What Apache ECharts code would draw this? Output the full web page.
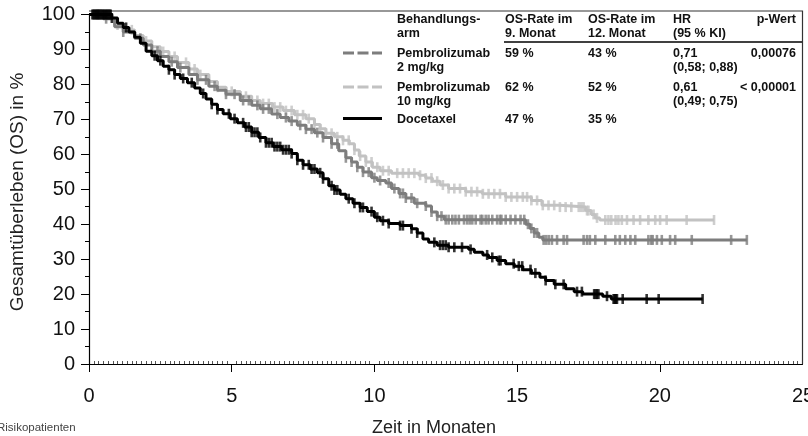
<!DOCTYPE html>
<html><head><meta charset="utf-8">
<script src="https://cdn.jsdelivr.net/npm/echarts@6/dist/echarts.min.js"></script>
<style>html,body{margin:0;padding:0;background:#fff}#c{width:808px;height:436px}</style>
</head><body><div id="c"></div>
<script>
// ---- data ----
const armNames = ['Pembrolizumab 10 mg/kg', 'Pembrolizumab 2 mg/kg', 'Docetaxel'];
const xTickValues = [0, 5, 10, 15, 20, 25];
const yTickValues = [0, 10, 20, 30, 40, 50, 60, 70, 80, 90, 100];

const docetaxelSteps = [[0,100],[0.8,99],[1.0,97.5],[1.2,96.3],[1.4,95],[1.6,93.5],[1.8,91.8],[2.0,89.5],[2.2,88.2],[2.4,86.8],[2.6,85.2],[2.8,84.2],[3.0,82.8],[3.2,81.7],[3.45,80.5],[3.7,79],[3.9,77.4],[4.1,75.8],[4.3,74.3],[4.5,72.8],[4.7,71.6],[4.95,70.2],[5.2,69],[5.45,67.8],[5.7,66.3],[5.95,64.8],[6.2,63.3],[6.45,62.2],[6.75,61.3],[7.1,60.2],[7.3,58.3],[7.5,57],[7.75,55.8],[8.0,54.7],[8.2,53],[8.4,51],[8.6,49.8],[8.8,48.6],[9.0,47.3],[9.25,46],[9.5,44.8],[9.75,43.6],[10.0,42],[10.2,41],[10.5,40.2],[10.9,39.6],[11.3,38.7],[11.5,37.5],[11.7,35.8],[11.9,34.8],[12.2,34],[12.6,33.4],[13.3,32.8],[13.5,32],[13.8,31.2],[14.0,30.5],[14.3,29.6],[14.6,28.7],[14.9,28],[15.2,27],[15.5,26],[15.8,24.8],[16.0,23.9],[16.3,22.8],[16.7,21.5],[17.0,20.7],[17.3,20],[18.0,19.4],[18.3,18.6],[21.5,18.6]];
const pembro2Steps = [[0,100],[0.5,98.8],[0.9,96.5],[1.2,95],[1.6,93.2],[1.9,91.3],[2.2,89.5],[2.5,88],[2.8,86.5],[3.1,84.8],[3.5,82.8],[3.8,81.3],[4.2,79.5],[4.5,78.3],[4.8,77.2],[5.3,75.4],[5.7,74],[6.0,73],[6.4,71.5],[6.7,70.5],[7.0,69.5],[7.3,68.3],[7.6,67.2],[7.9,66.2],[8.2,64.8],[8.5,63],[8.75,61],[9.0,59],[9.2,57.8],[9.4,56.3],[9.6,54.9],[9.9,53.3],[10.1,52.5],[10.4,51.8],[10.6,50.2],[10.86,48.8],[11.1,47.5],[11.4,46],[11.8,45.2],[12.0,43.5],[12.2,42.3],[12.45,41.3],[15.1,41.3],[15.3,40],[15.45,38.8],[15.6,37.5],[15.76,36.3],[15.9,35.5],[23.05,35.5]];
const pembro10Steps = [[0,100],[0.5,99],[0.9,97],[1.2,95.6],[1.6,94],[1.9,92.4],[2.2,90.8],[2.5,89.4],[2.8,88],[3.1,86.3],[3.5,84.4],[3.8,82.8],[4.2,80.8],[4.5,79.2],[4.8,78],[5.3,76.6],[5.7,75.4],[6.0,74.5],[6.43,73.5],[6.8,72.5],[7.2,71.3],[7.6,70.2],[7.9,68.5],[8.1,67.3],[8.3,66],[8.6,65],[8.9,64],[9.12,63],[9.3,61.2],[9.47,59.5],[9.7,57.8],[9.93,56.3],[10.2,55.3],[10.6,54.6],[11.56,54],[11.8,53.2],[12.03,52.3],[12.3,51.2],[12.6,50.2],[13.2,49.3],[13.78,48.7],[14.6,47.8],[15.5,46.8],[15.87,45.4],[16.5,44.9],[17.4,43.9],[17.6,42.8],[17.74,41.8],[17.9,41.2],[21.9,41.2]];

const docetaxelCensor = [0.12,0.16,0.2,0.24,0.28,0.32,0.36,0.4,0.44,0.48,0.52,0.56,0.6,0.64,0.68,0.72,0.76,0.8,1.3,2.3,2.5,2.8,3.0,3.3,3.6,4.0,4.3,4.5,4.9,5.1,5.4,5.5,5.6,5.7,5.8,5.9,6.0,6.2,6.3,6.4,6.5,6.6,6.7,6.8,6.9,7.0,7.1,7.3,7.5,7.7,7.8,7.9,8.1,8.2,8.5,8.6,8.7,9.1,9.3,9.5,9.6,9.9,10.1,10.3,10.5,10.9,11.0,11.3,11.5,12.1,12.3,12.4,12.5,12.6,12.8,13.07,13.37,13.95,14.13,14.36,14.42,14.88,15.06,15.18,15.47,15.64,16.0,16.34,16.63,17.1,17.27,17.7,17.75,17.8,17.85,18.15,18.38,18.42,18.46,18.5,18.7,19.54,19.96,21.5];
const pembro2Censor = [0.3,0.6,1.2,1.8,2.4,2.9,3.2,3.8,4.1,4.4,4.8,5.1,5.4,5.6,5.9,6.1,6.3,6.6,6.9,7.1,7.4,7.6,7.8,8.0,8.2,8.5,8.7,9.0,9.2,9.4,9.6,9.8,10.0,10.2,10.5,10.7,10.9,11.0,11.1,11.3,11.5,11.8,12.0,12.2,12.35,12.5,12.6,12.73,12.84,12.96,13.14,13.25,13.34,13.43,13.55,13.72,13.78,13.9,14.0,14.13,14.3,14.4,14.45,14.6,14.77,14.94,15.12,15.25,15.38,15.5,15.6,15.7,15.93,16.02,16.11,16.22,16.4,16.63,16.75,17.33,17.45,17.55,17.74,18.09,18.44,18.6,18.79,18.97,19.14,19.6,19.7,19.75,19.9,20.07,20.36,20.54,21.12,22.5,23.05];
const pembro10Censor = [0.4,1.0,1.5,2.0,2.6,3.0,3.4,3.7,3.9,4.2,4.5,4.8,5.0,5.3,5.5,5.7,5.9,6.1,6.3,6.5,6.7,6.9,7.1,7.3,7.5,7.7,7.9,8.1,8.3,8.5,8.7,8.9,9.1,9.3,9.5,9.7,9.9,10.1,10.3,10.5,10.8,11.0,11.2,11.4,11.6,11.8,12.0,12.2,12.4,12.6,12.8,13.0,13.2,13.4,13.6,13.8,14.0,14.2,14.4,14.6,14.8,15.0,15.2,15.35,15.5,15.7,15.9,16.1,16.3,16.5,16.7,16.9,17.16,17.25,17.33,17.45,17.5,17.68,17.8,18.09,18.2,18.3,18.45,18.55,18.67,18.85,19.08,19.31,19.6,19.84,20.01,20.24,20.94,21.9];

const tableHeader = [['Behandlungs-','arm'],['OS-Rate im','9. Monat'],['OS-Rate im','12. Monat'],['HR','(95 % KI)'],['p-Wert','']];
const tableRows = [
  [['Pembrolizumab','2 mg/kg'],['59 %'],['43 %'],['0,71','(0,58; 0,88)'],['0,00076']],
  [['Pembrolizumab','10 mg/kg'],['62 %'],['52 %'],['0,61','(0,49; 0,75)'],['< 0,00001']],
  [['Docetaxel'],['47 %'],['35 %'],[],[]]
];

// ---- helpers ----
function survAt(steps, t) {
  let s = steps[0][1];
  for (const p of steps) { if (p[0] <= t) s = p[1]; else break; }
  return s;
}
const colDark = '#7d7d7d', colLight = '#c2c2c2', colBlack = '#000000';
const FONT = '"Liberation Sans", Arial, sans-serif';

function lineSeries(steps, color, z) {
  return { type: 'line', step: 'end', data: steps, showSymbol: false, symbol: 'none',
    lineStyle: { color: color, width: 3 }, itemStyle: { color: color }, z: z, animation: false };
}
function censorSeries(steps, times, color, z) {
  return { type: 'scatter', data: times.map(t => [t, survAt(steps, t)]), symbol: 'rect',
    symbolSize: [2.6, 10], itemStyle: { color: color }, z: z, animation: false, silent: true };
}

// ---- table graphics ----
const graphics = [];
const colX = [397, 505, 588, 673, 796];
const colAlign = ['left','left','left','left','right'];
function txt(s, x, y, align) {
  graphics.push({ type: 'text', x: x, y: y, silent: true, z: 100,
    style: { text: s, fill: '#111', font: 'bold 12.5px ' + FONT, align: align || 'left', verticalAlign: 'middle' } });
}
tableHeader.forEach((h, i) => { txt(h[0], colX[i], 20, colAlign[i]); if (h[1]) txt(h[1], colX[i], 34, colAlign[i]); });
const rowY = [54, 88, 120];
tableRows.forEach((r, ri) => {
  r.forEach((c, ci) => {
    if (c[0]) txt(c[0], colX[ci], rowY[ri], colAlign[ci]);
    if (c[1]) txt(c[1], colX[ci], rowY[ri] + 14, colAlign[ci]);
  });
});
graphics.push({ type: 'line', shape: { x1: 504, y1: 42, x2: 802, y2: 42 }, style: { stroke: '#000', lineWidth: 1.5 }, silent: true });
graphics.push({ type: 'line', shape: { x1: 343, y1: 53, x2: 382, y2: 53 }, style: { stroke: colDark, lineWidth: 3, lineDash: [11, 3.5] }, silent: true });
graphics.push({ type: 'line', shape: { x1: 343, y1: 87, x2: 382, y2: 87 }, style: { stroke: colLight, lineWidth: 3, lineDash: [11, 3.5] }, silent: true });
graphics.push({ type: 'line', shape: { x1: 343, y1: 118.5, x2: 382, y2: 118.5 }, style: { stroke: colBlack, lineWidth: 3 }, silent: true });
// frame top / right
graphics.push({ type: 'polyline', shape: { points: [[89, 11], [802.5, 11], [802.5, 364]] }, style: { stroke: '#333', lineWidth: 1.2, fill: null }, silent: true });
// titles and cut-off last tick label
graphics.push({ type: 'text', x: 434, y: 428, silent: true, style: { text: 'Zeit in Monaten', fill: '#222', font: '18px ' + FONT, align: 'center', verticalAlign: 'middle' } });
graphics.push({ type: 'text', x: 18, y: 192, rotation: Math.PI / 2, silent: true, style: { text: 'Gesamtüberleben (OS) in %', fill: '#222', font: '19px ' + FONT, align: 'center', verticalAlign: 'middle' } });
graphics.push({ type: 'text', x: -3, y: 428, silent: true, style: { text: 'Risikopatienten', fill: '#444', font: '11.5px ' + FONT, align: 'left', verticalAlign: 'middle' } });
graphics.push({ type: 'text', x: 803, y: 396, silent: true, style: { text: String(xTickValues[xTickValues.length - 1]), fill: '#111', font: '20px ' + FONT, align: 'center', verticalAlign: 'middle' } });

const chart = echarts.init(document.getElementById('c'), null, { renderer: 'canvas' });
chart.setOption({
  animation: false,
  backgroundColor: '#fff',
  grid: { left: 89, right: 5.5, top: 14.5, bottom: 72, containLabel: false },
  xAxis: [{
    type: 'value', min: xTickValues[0], max: xTickValues[xTickValues.length - 1], interval: 5, position: 'bottom',
    axisLine: { show: true, onZero: false, lineStyle: { color: '#000', width: 1.2 } },
    axisTick: { show: true, length: 8, lineStyle: { color: '#000', width: 1 } },
    axisLabel: { fontSize: 20, color: '#111', margin: 22, fontFamily: FONT, showMaxLabel: false },
    splitLine: { show: false }
  }, {
    type: 'value', min: xTickValues[0], max: xTickValues[xTickValues.length - 1], interval: 5, position: 'bottom', offset: 0,
    axisLine: { show: false, onZero: false }, axisTick: { show: false, inside: true }, axisLabel: { show: false },
    minorTick: { show: true, splitNumber: 30, length: 3, lineStyle: { color: '#555', width: 1 } },
    splitLine: { show: false }
  }],
  yAxis: {
    type: 'value', min: yTickValues[0], max: yTickValues[yTickValues.length - 1], interval: 10,
    axisLine: { show: true, onZero: false, lineStyle: { color: '#000', width: 1.2 } },
    axisTick: { show: true, length: 8, lineStyle: { color: '#000', width: 1 } },
    minorTick: { show: true, splitNumber: 2, length: 4, lineStyle: { color: '#000', width: 1 } },
    axisLabel: { fontSize: 20, color: '#111', margin: 14, fontFamily: FONT },
    splitLine: { show: false }
  },
  series: [
    lineSeries(pembro10Steps, colLight, 2), censorSeries(pembro10Steps, pembro10Censor, colLight, 2),
    lineSeries(pembro2Steps, colDark, 3), censorSeries(pembro2Steps, pembro2Censor, colDark, 3),
    lineSeries(docetaxelSteps, colBlack, 4), censorSeries(docetaxelSteps, docetaxelCensor, colBlack, 4)
  ],
  graphic: graphics
});
</script>
</body></html>
